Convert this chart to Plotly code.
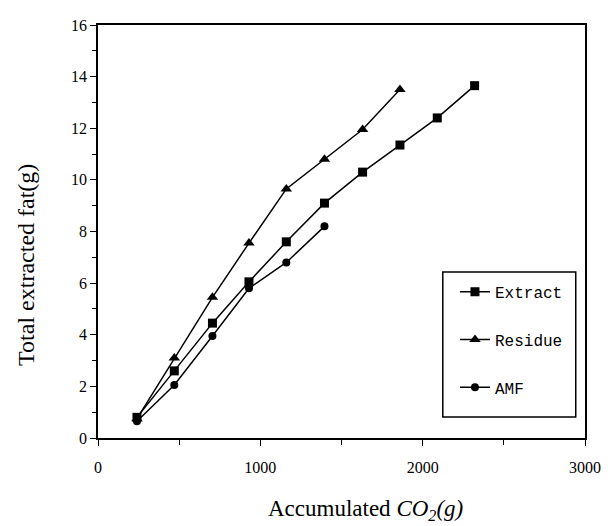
import plotly.graph_objects as go

x_extract = [240, 470, 705, 930, 1160, 1395, 1630, 1860, 2090, 2320]
y_extract = [0.8, 2.6, 4.45, 6.05, 7.6, 9.1, 10.3, 11.35, 12.4, 13.65]

x_residue = [240, 470, 705, 930, 1160, 1395, 1630, 1860]
y_residue = [0.75, 3.1, 5.45, 7.55, 9.65, 10.8, 11.95, 13.5]

x_amf = [240, 470, 705, 930, 1160, 1395]
y_amf = [0.65, 2.05, 3.95, 5.8, 6.8, 8.2]

series = [
    ("Extract", x_extract, y_extract, "square", 9),
    ("Residue", x_residue, y_residue, "triangle-up", 10),
    ("AMF", x_amf, y_amf, "circle", 8),
]

x_title = "Accumulated <i>CO<sub>2</sub>(g)</i>"
y_title = "Total extracted fat(g)"

fig = go.Figure()
for name, xs, ys, sym, sz in series:
    fig.add_trace(go.Scatter(
        x=xs, y=ys, mode="lines+markers", name=name, legendgroup=name,
        line=dict(color="black", width=1.5),
        marker=dict(symbol=sym, size=sz, color="black"),
    ))

axis_common = dict(
    showgrid=False, zeroline=False, showline=True, linecolor="black", linewidth=1.5,
    mirror=True, ticks="outside", ticklen=6, tickcolor="black", automargin=False,
    tickfont=dict(family="Liberation Serif", size=16, color="black"),
)

fig.update_xaxes(range=[0, 3000], dtick=1000, tick0=0, ticklabelstandoff=8,
                 minor=dict(dtick=500, ticks="outside", ticklen=5, tickcolor="black"),
                 **axis_common)
fig.update_yaxes(range=[0, 16], dtick=2, tick0=0,
                 minor=dict(dtick=1, ticks="outside", ticklen=4, tickcolor="black"),
                 **axis_common)

fig.add_annotation(text=x_title, xref="paper", yref="paper", x=0.55, y=-0.174,
                   xanchor="center", yanchor="middle", showarrow=False,
                   font=dict(family="Liberation Serif", size=23, color="black"))
fig.add_annotation(text=y_title, xref="paper", yref="paper", x=-0.148, y=0.419,
                   xanchor="center", yanchor="middle", showarrow=False, textangle=-90,
                   font=dict(family="Liberation Serif", size=24, color="black"))

fig.add_shape(type="rect", xref="paper", yref="paper",
              x0=0.708, x1=0.981, y0=0.051, y1=0.402,
              line=dict(color="black", width=1.5), fillcolor="white", layer="below")

# page body has an 8px default margin; size the figure to compensate
fig.update_layout(
    width=603, height=518,
    margin=dict(l=90, r=26, t=17, b=88),
    paper_bgcolor="white", plot_bgcolor="white",
    showlegend=True,
    legend=dict(x=0.733, y=0.395, xanchor="left", yanchor="top",
                borderwidth=0, bgcolor="rgba(0,0,0,0)",
                font=dict(family="Liberation Mono", size=16, color="black"),
                tracegroupgap=24, itemwidth=30),
)

fig.write_html("out.html")
